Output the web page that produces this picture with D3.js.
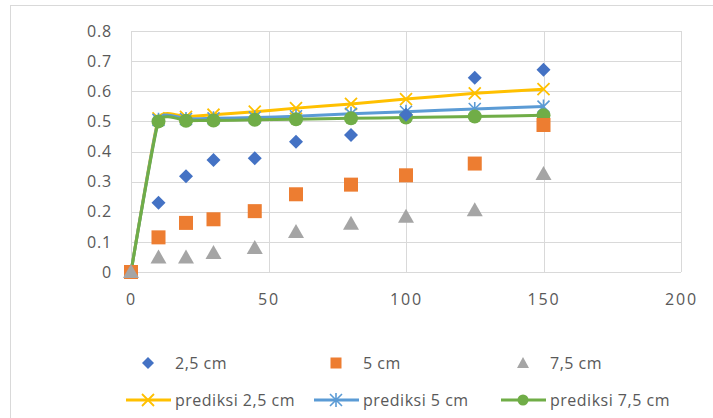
<!DOCTYPE html>
<html>
<head>
<meta charset="utf-8">
<script src="https://cdn.jsdelivr.net/npm/d3@7"></script>
<style>
  body { margin: 0; background: #fff; }
  text { font-family: "Open Sans", "Noto Sans", sans-serif; fill: #595959; }
</style>
</head>
<body>
<svg id="chart" width="713" height="418"></svg>
<script>
// Measurement positions (x) and observed values per depth
const xs = [0, 10, 20, 30, 45, 60, 80, 100, 125, 150];
const obs25 = [0, 0.23, 0.318, 0.372, 0.378, 0.432, 0.455, 0.522, 0.645, 0.671];
const obs50 = [0, 0.115, 0.163, 0.175, 0.202, 0.258, 0.29, 0.321, 0.36, 0.488];
const obs75 = [0, 0.048, 0.048, 0.063, 0.08, 0.133, 0.16, 0.183, 0.205, 0.325];
// Model predictions per depth
const pred25 = [0, 0.51, 0.515, 0.522, 0.532, 0.544, 0.558, 0.574, 0.593, 0.607];
const pred50 = [0, 0.505, 0.508, 0.51, 0.513, 0.517, 0.525, 0.532, 0.541, 0.549];
const pred75 = [0, 0.5, 0.502, 0.503, 0.505, 0.507, 0.51, 0.513, 0.516, 0.52];
// Axis ticks
const xTicks = [0, 50, 100, 150, 200];
const yTicks = [0, 0.1, 0.2, 0.3, 0.4, 0.5, 0.6, 0.7, 0.8];

const svg = d3.select("#chart");

// chart frame
svg.append("rect").attr("x", 10.5).attr("y", 5.5).attr("width", 720).attr("height", 430)
  .attr("fill", "#fff").attr("stroke", "#d9d9d9").attr("stroke-width", 1);

const x = d3.scaleLinear().domain([0, 200]).range([131, 681]);
const y = d3.scaleLinear().domain([0, 0.8]).range([272, 31]);

// gridlines
const grid = svg.append("g");
grid.selectAll(".hg").data(yTicks).join("line")
  .attr("x1", x(0)).attr("x2", x(200))
  .attr("y1", d => Math.round(y(d)) + 0.5).attr("y2", d => Math.round(y(d)) + 0.5)
  .attr("stroke", "#d9d9d9").attr("stroke-width", 1);
grid.selectAll(".vg").data(xTicks).join("line")
  .attr("y1", y(0)).attr("y2", y(0.8))
  .attr("x1", d => Math.round(x(d)) + 0.5).attr("x2", d => Math.round(x(d)) + 0.5)
  .attr("stroke", "#d9d9d9").attr("stroke-width", 1);

// axes (labels only)
const yAxis = d3.axisLeft(y).tickValues(yTicks).tickSize(0).tickPadding(19)
  .tickFormat(d => d === 0 ? "0" : d3.format(".1f")(d));
const gy = svg.append("g").attr("transform", `translate(${x(0)},0)`).call(yAxis);
gy.select(".domain").remove();
gy.selectAll("text").style("font-size", "16px").style("fill", "#595959")
  .style("letter-spacing", "0.8px").style("font-family", "'Open Sans', sans-serif");

const xAxis = d3.axisBottom(x).tickValues(xTicks).tickSize(0).tickPadding(22)
  .tickFormat(d3.format("d"));
const gx = svg.append("g").attr("transform", `translate(0,${y(0)})`).call(xAxis);
gx.select(".domain").remove();
gx.selectAll("text").style("font-size", "16px").style("fill", "#595959")
  .style("letter-spacing", "1.8px").style("font-family", "'Open Sans', sans-serif");

const colors = {
  o25: "#4472C4", o50: "#ED7D31", o75: "#A5A5A5",
  p25: "#FFC000", p50: "#5B9BD5", p75: "#70AD47"
};

// marker drawing helpers
function xMark(g, cx, cy, color) {
  const s = 6;
  g.append("path").attr("d", `M${cx - s},${cy - s}L${cx + s},${cy + s}M${cx - s},${cy + s}L${cx + s},${cy - s}`)
    .attr("stroke", color).attr("stroke-width", 1.8).attr("fill", "none");
}
function starMark(g, cx, cy, color) {
  const s = 6;
  g.append("path").attr("d",
    `M${cx - s},${cy - s}L${cx + s},${cy + s}M${cx - s},${cy + s}L${cx + s},${cy - s}M${cx},${cy - s - 1}L${cx},${cy + s + 1}`)
    .attr("stroke", color).attr("stroke-width", 1.6).attr("fill", "none");
}
function circleMark(g, cx, cy, color) {
  g.append("circle").attr("cx", cx).attr("cy", cy).attr("r", 7).attr("fill", color);
}
function diamondMark(g, cx, cy, color) {
  const s = 7;
  g.append("path").attr("d", `M${cx},${cy - s}L${cx + s},${cy}L${cx},${cy + s}L${cx - s},${cy}Z`).attr("fill", color);
}
function squareMark(g, cx, cy, color) {
  g.append("rect").attr("x", cx - 7).attr("y", cy - 7).attr("width", 14).attr("height", 14).attr("fill", color);
}
function triMark(g, cx, cy, color) {
  g.append("path").attr("d", `M${cx},${cy - 8}L${cx + 8},${cy + 6}L${cx - 8},${cy + 6}Z`).attr("fill", color);
}

// smoothed prediction lines
const line = d3.line().x(d => x(d[0])).y(d => y(d[1])).curve(d3.curveCardinal.tension(0.6));
const preds = [
  { vals: pred25, color: colors.p25, mark: xMark },
  { vals: pred50, color: colors.p50, mark: starMark },
  { vals: pred75, color: colors.p75, mark: circleMark }
];
const lg = svg.append("g");
preds.forEach(p => {
  const pts = xs.map((v, i) => [v, p.vals[i]]);
  lg.append("path").attr("d", line(pts)).attr("fill", "none")
    .attr("stroke", p.color).attr("stroke-width", 3).attr("stroke-linejoin", "round");
  pts.forEach(pt => p.mark(lg, x(pt[0]), y(pt[1]), p.color));
});

// observed points
const obs = [
  { vals: obs25, color: colors.o25, mark: diamondMark },
  { vals: obs50, color: colors.o50, mark: squareMark },
  { vals: obs75, color: colors.o75, mark: triMark }
];
const sg = svg.append("g");
obs.forEach(o => {
  xs.forEach((v, i) => o.mark(sg, x(v), y(o.vals[i]), o.color));
});

// legend
const leg = svg.append("g");
const legFont = g => g.style("font-size", "16px").style("letter-spacing", "0.5px");
const legRow1 = [
  { label: "2,5 cm", color: colors.o25, kind: "diamond", mx: 148 },
  { label: "5 cm", color: colors.o50, kind: "square", mx: 336 },
  { label: "7,5 cm", color: colors.o75, kind: "triangle", mx: 523 }
];
legRow1.forEach(d => {
  const cy = 363, cx = d.mx;
  if (d.kind === "diamond") {
    leg.append("path").attr("d", `M${cx},${cy - 6}L${cx + 6},${cy}L${cx},${cy + 6}L${cx - 6},${cy}Z`).attr("fill", d.color);
  } else if (d.kind === "square") {
    leg.append("rect").attr("x", cx - 5.5).attr("y", cy - 5.5).attr("width", 11).attr("height", 11).attr("fill", d.color);
  } else {
    leg.append("path").attr("d", `M${cx},${cy - 6}L${cx + 6},${cy + 5}L${cx - 6},${cy + 5}Z`).attr("fill", d.color);
  }
  leg.append("text").attr("x", cx + 27).attr("y", cy).attr("dy", "0.35em")
    .call(legFont).text(d.label);
});
const legRow2 = [
  { label: "prediksi 2,5 cm", color: colors.p25, mark: xMark, mx: 148 },
  { label: "prediksi 5 cm", color: colors.p50, mark: starMark, mx: 336 },
  { label: "prediksi 7,5 cm", color: colors.p75, mark: circleMark, mx: 523 }
];
legRow2.forEach(d => {
  const ly = 400;
  leg.append("line").attr("x1", d.mx - 22).attr("x2", d.mx + 23).attr("y1", ly).attr("y2", ly)
    .attr("stroke", d.color).attr("stroke-width", 3);
  if (d.mark === circleMark) {
    leg.append("circle").attr("cx", d.mx).attr("cy", ly).attr("r", 5.5).attr("fill", d.color);
  } else {
    d.mark(leg, d.mx, ly, d.color);
  }
  leg.append("text").attr("x", d.mx + 27).attr("y", ly).attr("dy", "0.35em")
    .call(legFont).text(d.label);
});
</script>
</body>
</html>
